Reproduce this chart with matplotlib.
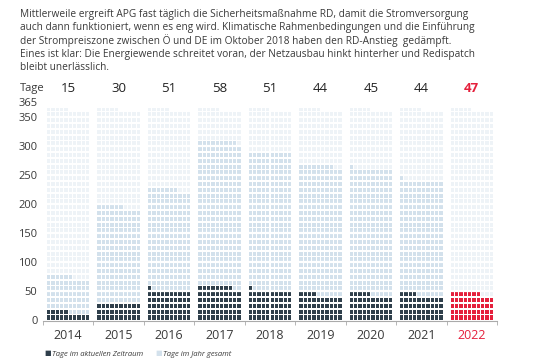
import matplotlib
matplotlib.use('Agg')
import matplotlib.pyplot as plt
import matplotlib.transforms as mtrans
import numpy as np

# data
years = ['2014', '2015', '2016', '2017', '2018', '2019', '2020', '2021', '2022']
tage_aktuell = [15, 30, 51, 58, 51, 44, 45, 44, 47]      # Tage im aktuellen Zeitraum
tage_gesamt = [76, 196, 227, 309, 290, 268, 261, 241, 47]  # Tage im Jahr gesamt
days_in_year = 365
y_ticks = [0, 50, 100, 150, 200, 250, 300, 350]

dark = '#2f3f4b'
light = '#d3e1ec'
faint = '#eef3f7'
red = '#e5203c'
textc = '#3a3a3a'

plt.rcParams['font.family'] = ['Open Sans', 'DejaVu Sans']

fig = plt.figure(figsize=(5.4, 3.6), dpi=100)
ax = fig.add_axes([43 / 540, 1 - 321 / 360, 454 / 540, 367 * 0.58 / 360])

pitch = 0.086
w = 0.066
h = 7.4


def squares(i, n, color):
    d = np.arange(n)
    col = d % 10
    row = d // 10
    x = i - 0.43 + (col + 0.5) * pitch
    ax.bar(x, h, width=w, bottom=row * 10 + (10 - h) / 2, color=color, linewidth=0, zorder=2)


for i in range(len(years)):
    squares(i, days_in_year, faint)
    squares(i, tage_gesamt[i], light)
    squares(i, tage_aktuell[i], red if i == len(years) - 1 else dark)

for yv in range(50, 351, 50):
    ax.axhline(yv, color='white', lw=1.6, zorder=3)

ax.set_xlim(-0.5, len(years) - 0.5)
ax.set_ylim(-1, 366)
ax.set_yticks(y_ticks)
ax.set_yticklabels([str(v) for v in y_ticks], fontsize=8, color=textc)
ax.tick_params(axis='y', length=0, pad=4)
# 365 label sits a bit higher, as in the original
ax.annotate(str(days_in_year), xy=(0, days_in_year), xycoords=('axes fraction', 'data'),
            xytext=(-4, 4), textcoords='offset points', ha='right', va='center',
            fontsize=8, color=textc)

ax.set_xticks(range(len(years)))
ax.set_xticklabels(years, fontsize=9, color=textc)
ax.get_xticklabels()[-1].set_color(red)
ax.set_xticks(np.arange(-0.5, len(years), 1), minor=True)
ax.tick_params(axis='x', which='major', length=0, pad=6)
ax.tick_params(axis='x', which='minor', length=3, color='#aaaaaa')

for s in ['top', 'right', 'left']:
    ax.spines[s].set_visible(False)
ax.spines['bottom'].set_color('#aaaaaa')

# top row with numbers
fig.text(20 / 540, 1 - 89 / 360, 'Tage', fontsize=8, color=textc, va='center')
tr = mtrans.blended_transform_factory(ax.transData, fig.transFigure)
for i, v in enumerate(tage_aktuell):
    last = i == len(years) - 1
    ax.text(i, 1 - 89 / 360, str(v), transform=tr, ha='center', va='center', fontsize=9.5,
            color=red if last else '#222222', fontweight='bold' if last else 'normal')

# paragraph
para = ("Mittlerweile ergreift APG fast täglich die Sicherheitsmaßnahme RD, damit die Stromversorgung\n"
        "auch dann funktioniert, wenn es eng wird. Klimatische Rahmenbedingungen und die Einführung\n"
        "der Strompreiszone zwischen Ö und DE im Oktober 2018 haben den RD-Anstieg  gedämpft.\n"
        "Eines ist klar: Die Energiewende schreitet voran, der Netzausbau hinkt hinterher und Redispatch\n"
        "bleibt unerlässlich.")
fig.text(20 / 540, 1 - 9 / 360, para, fontsize=7.3, color=textc, va='top', ha='left', linespacing=1.2)

# legend
fig.text(44 / 540, 1 - 354 / 360, '■', fontsize=5, color=dark, va='center')
fig.text(52 / 540, 1 - 354 / 360, 'Tage im aktuellen Zeitraum', fontsize=5.5, style='italic',
         color=textc, va='center')
fig.text(155 / 540, 1 - 354 / 360, '■', fontsize=5, color=light, va='center')
fig.text(163 / 540, 1 - 354 / 360, 'Tage im Jahr gesamt', fontsize=5.5, style='italic',
         color=textc, va='center')

fig.savefig('out.png', dpi=100)
